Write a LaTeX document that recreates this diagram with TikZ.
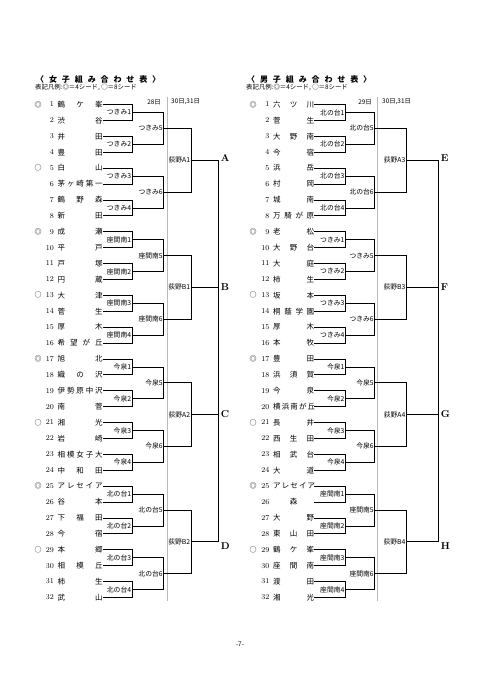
\documentclass[tikz,border=0pt]{standalone}
\usepackage{fontspec}
\newfontfamily\jp{Noto Sans CJK JP}
\usetikzlibrary{positioning,calc}

\tikzset{
	waku/.style={line width=0.7pt},
	kugiri/.style={gray!55, line width=0.5pt},
	team/.style={anchor=west, inner sep=0pt, font=\jp\fontsize{7.5}{8}\selectfont},
	bango/.style={anchor=east, inner sep=0pt, font=\fontsize{7.5}{8}\selectfont},
	seed/.style={inner sep=0pt, font=\jp\fontsize{7}{8}\selectfont},
	shiai/.style={inner sep=0pt, font=\jp\fontsize{6.8}{7}\selectfont},
	moji/.style={inner sep=0pt, font=\bfseries\fontsize{10}{10}\selectfont},
	midashi/.style={anchor=west, inner sep=0pt, font=\jp\bfseries\fontsize{8}{9}\selectfont},
	chuki/.style={anchor=west, inner sep=0pt, font=\jp\fontsize{6.4}{7}\selectfont}
}

\begin{document}
\begin{tikzpicture}[x=1pt, y=-1pt, line join=miter]
	\useasboundingbox (0,0) rectangle (481,680);
	
	% ==========================================
	% 1: 女子組み合わせ表 (左)
	% ==========================================
	\begin{scope}
		\node[midashi] (fmidashi) at (36,79) {\makebox[124pt][s]{〈 女 子 組 み 合 わ せ 表 〉}};
		\node[chuki] (fhanrei) at (35,87) {表記凡例:◎＝4シード, ○＝8シード};
		\node[chuki, anchor=center] (fhi1) at (154,102) {28日};
		\node[chuki] (fhi2) at (171,102) {30日,31日};
		\draw[kugiri] (167,97) -- (167,601);
		
		% チーム名 (1 -> 32)
		\foreach \i/\n in {1/{鶴 ケ 峯},2/{渋 谷},3/{井 田},4/{豊 田},5/{白 山},6/{茅 ヶ 崎 第 一},7/{鶴 野 森},8/{新 田},
			9/{成 瀬},10/{平 戸},11/{戸 塚},12/{円 蔵},13/{大 津},14/{菅 生},15/{厚 木},16/{希 望 が 丘},
			17/{旭 北},18/{織 の 沢},19/{伊 勢 原 中 沢},20/{南 菅},21/{湘 光},22/{岩 崎},23/{相 模 女 子 大},24/{中 和 田},
			25/{ア レ セ イ ア},26/{谷 本},27/{下 福 田},28/{今 宿},29/{本 郷},30/{相 模 丘},31/{柿 生},32/{武 山}} {
			\node[bango] (fno\i) at (54,{104.5+(\i-1)*15.9}) {\i};
			\node[team] (f\i) at (57.5,{104.5+(\i-1)*15.9}) {\makebox[45pt][s]{\n}};
		}
		\foreach \i/\s in {1/◎,5/○,9/◎,13/○,17/◎,21/○,25/◎,29/○} {
			\node[seed] (fsd\i) at (38,{104.5+(\i-1)*15.9}) {\s};
		}
		
		% 1回戦
		\foreach \k/\t [evaluate=\k as \a using int(2*\k-1), evaluate=\k as \b using int(2*\k)] in
			{1/つきみ1,2/つきみ2,3/つきみ3,4/つきみ4,5/座間南1,6/座間南2,7/座間南3,8/座間南4,
			9/今泉1,10/今泉2,11/今泉3,12/今泉4,13/北の台1,14/北の台2,15/北の台3,16/北の台4} {
			\coordinate (fa\k) at ($(f\a.east)!0.5!(f\b.east)+(29.2,0)$);
			\draw[waku] (f\a.east) -| (fa\k) |- (f\b.east);
			\node[shiai, left=0.8pt of fa\k] (fal\k) {\t};
		}
		% 2回戦
		\foreach \k/\t [evaluate=\k as \a using int(2*\k-1), evaluate=\k as \b using int(2*\k)] in
			{1/つきみ5,2/つきみ6,3/座間南5,4/座間南6,5/今泉5,6/今泉6,7/北の台5,8/北の台6} {
			\coordinate (fb\k) at ($(fa\a)!0.5!(fa\b)+(31.6,0)$);
			\draw[waku] (fa\a) -| (fb\k) |- (fa\b);
			\node[shiai, left=0.8pt of fb\k] (fbl\k) {\t};
		}
		% 3回戦
		\foreach \k/\t [evaluate=\k as \a using int(2*\k-1), evaluate=\k as \b using int(2*\k)] in
			{1/荻野A1,2/荻野B1,3/荻野A2,4/荻野B2} {
			\coordinate (fc\k) at ($(fb\a)!0.5!(fb\b)+(27.4,0)$);
			\draw[waku] (fb\a) -| (fc\k) |- (fb\b);
			\node[shiai, left=0.8pt of fc\k] (fcl\k) {\t};
		}
		% A -> D
		\foreach \k/\L/\s in {1/A/2,2/B/0,3/C/0,4/D/-4} {
			\coordinate (fd\k) at ($(fc\k)+(27.6,0)$);
			\draw[waku] (fc\k) -- (fd\k);
			\node[moji, right=2pt of fd\k, yshift=\s pt] (fx\k) {\L};
		}
		\draw[waku] (fd1) -- (fd4);
	\end{scope}
	
	% ==========================================
	% 2: 男子組み合わせ表 (右)
	% ==========================================
	\begin{scope}
		\node[midashi] (mmidashi) at (247,79) {\makebox[124pt][s]{〈 男 子 組 み 合 わ せ 表 〉}};
		\node[chuki] (mhanrei) at (246,87) {表記凡例:◎＝4シード, ○＝8シード};
		\node[chuki, anchor=center] (mhi1) at (365,102) {29日};
		\node[chuki] (mhi2) at (382,102) {30日,31日};
		\draw[kugiri] (377.7,97) -- (377.7,601);
		
		% チーム名 (1 -> 32)
		\foreach \i/\n in {1/{六 ツ 川},2/{菅 生},3/{大 野 南},4/{今 宿},5/{浜 岳},6/{村 岡},7/{城 南},8/{万 騎 が 原},
			9/{老 松},10/{大 野 台},11/{大 庭},12/{柿 生},13/{坂 本},14/{桐 蔭 学 園},15/{厚 木},16/{本 牧},
			17/{豊 田},18/{浜 須 賀},19/{今 泉},20/{横 浜 南 が 丘},21/{長 井},22/{西 生 田},23/{相 武 台},24/{大 道},
			25/{ア レ セ イ ア},26/{\hfil 森\hfil},27/{大 野},28/{東 山 田},29/{鶴 ケ 峯},30/{座 間 南},31/{渡 田},32/{湘 光}} {
			\node[bango] (mno\i) at (269.5,{104.5+(\i-1)*15.9}) {\i};
			\node[team] (m\i) at (273,{104.5+(\i-1)*15.9}) {\makebox[41pt][s]{\n}};
		}
		\foreach \i/\s in {1/◎,9/◎,13/○,17/◎,21/○,25/◎,29/○} {
			\node[seed] (msd\i) at (253,{104.5+(\i-1)*15.9}) {\s};
		}
		
		% 1回戦
		\foreach \k/\t [evaluate=\k as \a using int(2*\k-1), evaluate=\k as \b using int(2*\k)] in
			{1/北の台1,2/北の台2,3/北の台3,4/北の台4,5/つきみ1,6/つきみ2,7/つきみ3,8/つきみ4,
			9/今泉1,10/今泉2,11/今泉3,12/今泉4,13/座間南1,14/座間南2,15/座間南3,16/座間南4} {
			\coordinate (ma\k) at ($(m\a.east)!0.5!(m\b.east)+(31,0)$);
			\draw[waku] (m\a.east) -| (ma\k) |- (m\b.east);
			\node[shiai, left=0.8pt of ma\k] (mal\k) {\t};
		}
		% 2回戦
		\foreach \k/\t [evaluate=\k as \a using int(2*\k-1), evaluate=\k as \b using int(2*\k)] in
			{1/北の台5,2/北の台6,3/つきみ5,4/つきみ6,5/今泉5,6/今泉6,7/座間南5,8/座間南6} {
			\coordinate (mb\k) at ($(ma\a)!0.5!(ma\b)+(29.3,0)$);
			\draw[waku] (ma\a) -| (mb\k) |- (ma\b);
			\node[shiai, left=0.8pt of mb\k] (mbl\k) {\t};
		}
		% 3回戦
		\foreach \k/\t [evaluate=\k as \a using int(2*\k-1), evaluate=\k as \b using int(2*\k)] in
			{1/荻野A3,2/荻野B3,3/荻野A4,4/荻野B4} {
			\coordinate (mc\k) at ($(mb\a)!0.5!(mb\b)+(31.7,0)$);
			\draw[waku] (mb\a) -| (mc\k) |- (mb\b);
			\node[shiai, left=0.8pt of mc\k] (mcl\k) {\t};
		}
		% E -> H
		\foreach \k/\L/\s in {1/E/2,2/F/0,3/G/0,4/H/-4} {
			\coordinate (md\k) at ($(mc\k)+(32.3,0)$);
			\draw[waku] (mc\k) -- (md\k);
			\node[moji, right=2pt of md\k, yshift=\s pt] (mx\k) {\L};
		}
		\draw[waku] (md1) -- (md4);
	\end{scope}
	
	% ページ番号
	\node[chuki, anchor=center] (page) at (240,644) {-7-};
\end{tikzpicture}
\end{document}
